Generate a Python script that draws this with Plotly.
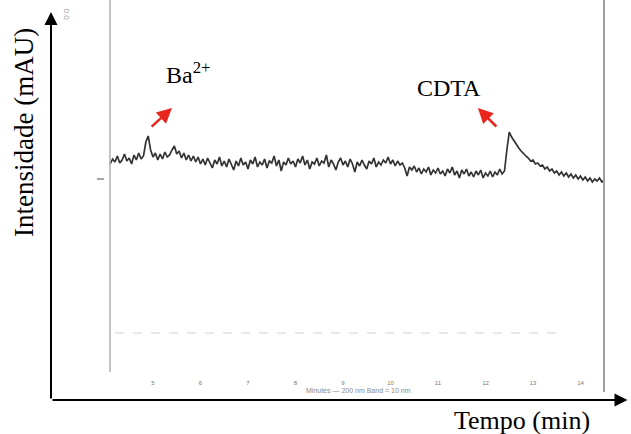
import numpy as np
import plotly.graph_objects as go

# Sampling times (min) of the detector trace
t_start, t_step = 4.10, 0.05
signal = [
    236, 241, 238, 244, 237, 240, 246, 239, 242, 236, 245, 240, 247, 241, 244,
    258, 264, 250, 243, 247, 240, 246, 241, 248, 243, 245, 250, 254, 246, 249,
    242, 247, 240, 245, 239, 244, 238, 243, 236, 241, 235, 242, 237, 232, 240,
    236, 243, 234, 239, 233, 241, 236, 230, 239, 234, 242, 235, 238, 231, 240,
    236, 243, 233, 238, 235, 241, 232, 239, 237, 244, 234, 240, 229, 238, 235,
    242, 236, 239, 233, 241, 237, 244, 235, 240, 231, 238, 236, 242, 234, 239,
    237, 245, 233, 240, 236, 230, 238, 242, 235, 239, 233, 241, 236, 228, 238,
    234, 240, 235, 231, 239, 236, 242, 233, 238, 235, 240, 237, 243,
    236, 240, 234, 239, 235, 237, 232, 224, 233, 230, 234, 228, 232, 226, 231,
    228, 233, 225, 230, 227, 232, 226, 229, 224, 231, 227, 233, 225, 229, 222,
    230, 226, 231, 224, 228, 223, 229, 225, 230, 222, 227, 224, 229, 223, 228,
    225, 231, 226, 229,
    250, 268, 263, 259, 256, 252, 249, 246, 244, 242, 239, 240, 236, 237, 234,
    235, 231, 233, 229, 231, 227, 229, 225, 228, 224, 227, 223, 226, 222, 225,
    221, 224, 220, 223, 219, 222, 218, 221, 219, 222, 218, 220,
]
time = np.round(t_start + t_step * np.arange(len(signal)), 2)

tick_vals = [5, 6, 7, 8, 9, 10, 11, 12, 13, 14]
tick_text = ["5", "6", "7", "8", "9", "10", "11", "12", "13", "14"]

peak_labels = ["Ba<sup>2+</sup>", "CDTA"]
peak_label_pos = [(5.74, 327), (11.23, 312)]
arrow_heads = [(5.40, 292), (11.84, 292)]
arrow_tails = [(4.94, 272), (12.26, 272)]

x_range = [2.853, 15.0]
y_range = [0, 400]

fig = go.Figure()

fig.add_trace(go.Scatter(
    x=time, y=signal, mode="lines",
    line=dict(color="#333333", width=1.7),
    hoverinfo="skip", showlegend=False,
))

fig.add_trace(go.Scatter(
    x=tick_vals, y=[17] * len(tick_vals), mode="text",
    text=tick_text, textfont=dict(size=6, color="#777777", family="Liberation Sans"),
    hoverinfo="skip", showlegend=False,
))

shapes = [
    dict(type="line", xref="x", yref="y", x0=4.095, x1=4.095, y0=28, y1=400,
         line=dict(color="#b0b0b0", width=1.5)),
    dict(type="line", xref="x", yref="y", x0=14.495, x1=14.495, y0=8, y1=400,
         line=dict(color="#a0a0a0", width=2)),
    dict(type="line", xref="x", yref="y", x0=4.2, x1=13.57, y0=67, y1=67,
         line=dict(color="#d0d0d0", width=1, dash="dash")),
    dict(type="line", xref="x", yref="y", x0=3.82, x1=3.97, y0=221, y1=221,
         line=dict(color="#888888", width=1.5)),
]

annotations = []
# axis arrows
annotations.append(dict(x=x_range[0], y=388, ax=x_range[0], ay=0, xref="x", yref="y",
                        axref="x", ayref="y", showarrow=True, arrowhead=2, arrowsize=1.3,
                        arrowwidth=2, arrowcolor="black", text=""))
annotations.append(dict(x=14.99, y=0, ax=x_range[0], ay=0, xref="x", yref="y",
                        axref="x", ayref="y", showarrow=True, arrowhead=2, arrowsize=1.3,
                        arrowwidth=2, arrowcolor="black", text=""))
# red arrows
for (hx, hy), (tx, ty) in zip(arrow_heads, arrow_tails):
    annotations.append(dict(x=hx, y=hy, ax=tx, ay=ty, xref="x", yref="y",
                            axref="x", ayref="y", showarrow=True, arrowhead=2,
                            arrowsize=1.2, arrowwidth=2.5, arrowcolor="#e8261e", text=""))
# peak labels
for lab, (lx, ly) in zip(peak_labels, peak_label_pos):
    annotations.append(dict(x=lx, y=ly, xref="x", yref="y", text=lab, showarrow=False,
                            font=dict(size=24, color="black", family="Liberation Serif")))
# scan text
annotations.append(dict(x=9.32, y=10, xref="x", yref="y", text="Minutes — 200 nm Band = 10 nm",
                        showarrow=False, font=dict(size=7, color="#8a8a8a", family="Liberation Sans")))
annotations.append(dict(x=3.2, y=385, xref="x", yref="y", text="0.0", textangle=90,
                        showarrow=False, font=dict(size=8, color="#999999", family="Liberation Sans")))
# axis titles
annotations.append(dict(x=-0.047, y=0.67, xref="paper", yref="paper",
                        xanchor="center", yanchor="middle",
                        text="Intensidade (mAU)", textangle=-90, showarrow=False,
                        font=dict(size=27, color="black", family="Liberation Serif")))
annotations.append(dict(x=0.816, y=-0.052, xref="paper", yref="paper",
                        xanchor="center", yanchor="middle",
                        text="Tempo (min)", showarrow=False,
                        font=dict(size=26, color="black", family="Liberation Serif")))

fig.update_layout(
    width=631, height=434,
    margin=dict(l=51, r=3, t=0, b=34),
    paper_bgcolor="white", plot_bgcolor="white",
    xaxis=dict(range=x_range, visible=False),
    yaxis=dict(range=y_range, visible=False),
    shapes=shapes, annotations=annotations,
    font=dict(family="Liberation Serif"),
)

fig.write_html("out.html", config={"displayModeBar": False},
               post_script="document.body.style.margin='0';")
